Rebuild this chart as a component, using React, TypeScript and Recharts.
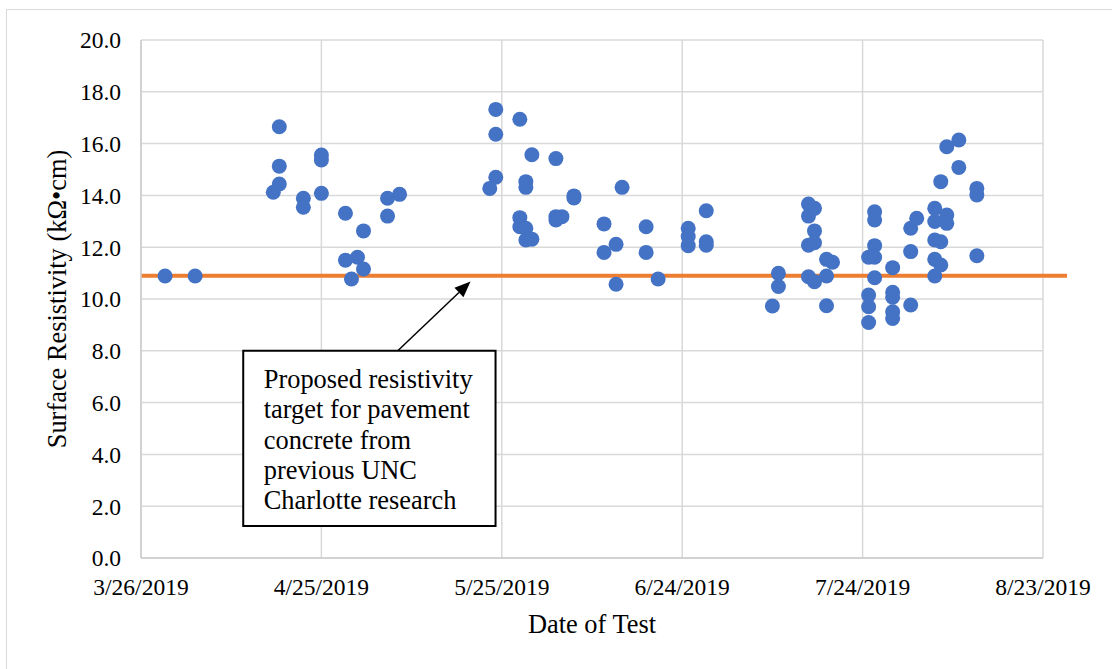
import React from 'react';
import { ScatterChart, Scatter, XAxis, YAxis, CartesianGrid, ReferenceLine, ReferenceArea } from 'recharts';

const testDates = [
  '2019-03-30', '2019-04-04', '2019-04-17', '2019-04-18', '2019-04-18', '2019-04-18', '2019-04-22', '2019-04-22',
  '2019-04-25', '2019-04-25', '2019-04-25', '2019-04-29', '2019-04-29', '2019-04-30', '2019-05-01', '2019-05-02',
  '2019-05-02', '2019-05-06', '2019-05-06', '2019-05-08', '2019-05-23', '2019-05-24', '2019-05-24', '2019-05-24',
  '2019-05-28', '2019-05-28', '2019-05-28', '2019-05-29', '2019-05-29', '2019-05-29', '2019-05-29', '2019-05-30',
  '2019-05-30', '2019-06-03', '2019-06-03', '2019-06-03', '2019-06-04', '2019-06-06', '2019-06-06', '2019-06-11',
  '2019-06-11', '2019-06-13', '2019-06-13', '2019-06-14', '2019-06-18', '2019-06-18', '2019-06-20', '2019-06-25',
  '2019-06-25', '2019-06-25', '2019-06-28', '2019-06-28', '2019-06-28', '2019-07-09', '2019-07-10', '2019-07-10',
  '2019-07-15', '2019-07-15', '2019-07-15', '2019-07-15', '2019-07-16', '2019-07-16', '2019-07-16', '2019-07-16',
  '2019-07-18', '2019-07-18', '2019-07-18', '2019-07-19', '2019-07-25', '2019-07-25', '2019-07-25', '2019-07-25',
  '2019-07-26', '2019-07-26', '2019-07-26', '2019-07-26', '2019-07-26', '2019-07-29', '2019-07-29', '2019-07-29',
  '2019-07-29', '2019-07-29', '2019-08-01', '2019-08-01', '2019-08-01', '2019-08-02', '2019-08-05', '2019-08-05',
  '2019-08-05', '2019-08-05', '2019-08-05', '2019-08-06', '2019-08-06', '2019-08-06', '2019-08-07', '2019-08-07',
  '2019-08-07', '2019-08-09', '2019-08-09', '2019-08-12', '2019-08-12', '2019-08-12',
];

const resistivity = [
  10.89, 10.89, 14.12, 16.65, 15.13, 14.44, 13.89, 13.54,
  15.56, 15.37, 14.08, 13.31, 11.5, 10.77, 11.61, 12.63,
  11.16, 13.89, 13.2, 14.04, 14.27, 17.32, 16.36, 14.7,
  16.94, 13.14, 12.79, 14.53, 14.31, 12.73, 12.28, 15.57,
  12.31, 15.42, 13.18, 13.05, 13.18, 13.98, 13.9, 12.9,
  11.8, 12.11, 10.57, 14.31, 12.79, 11.8, 10.77, 12.73,
  12.41, 12.06, 13.41, 12.21, 12.08, 9.73, 10.99, 10.48,
  13.67, 13.2, 12.08, 10.86, 13.5, 12.63, 12.17, 10.67,
  11.53, 10.89, 9.74, 11.42, 11.61, 10.15, 9.7, 9.09,
  13.37, 13.05, 12.06, 11.61, 10.82, 11.21, 10.26, 10.07,
  9.51, 9.25, 12.73, 11.83, 9.77, 13.12, 13.5, 12.99,
  12.28, 11.53, 10.89, 14.53, 12.21, 11.31, 15.88, 13.24,
  12.92, 16.14, 15.08, 14.27, 14.02, 11.67,
];

const xTickDates = ['2019-03-26', '2019-04-25', '2019-05-25', '2019-06-24', '2019-07-24', '2019-08-23'];
const yTicks = [0, 2, 4, 6, 8, 10, 12, 14, 16, 18, 20];

const targetDates = ['2019-03-26', '2019-08-27'];
const targetValues = [10.9, 10.9];

const noteLines = ['Proposed resistivity', 'target for pavement', 'concrete from', 'previous UNC', 'Charlotte research'];
// annotation box and arrow anchors, in (day offset, value) units
const noteBoxX = [17, 58.96];
const noteBoxY = [1.24, 8.0];
const arrowX = [42.7, 54.8];
const arrowY = [8.0, 10.68];

const BASE = Date.UTC(2019, 2, 26);
const toDay = (s: string) => {
  const [y, m, d] = s.split('-').map(Number);
  return (Date.UTC(y, m - 1, d) - BASE) / 86400000;
};
const fmtDay = (v: number) => {
  const dt = new Date(BASE + v * 86400000);
  return `${dt.getUTCMonth() + 1}/${dt.getUTCDate()}/${dt.getUTCFullYear()}`;
};

const data = testDates.map((d, i) => ({ x: toDay(d), y: resistivity[i] }));
const xTicks = xTickDates.map(toDay);

const FONT = '"Liberation Serif", "Times New Roman", serif';
const GRID = '#D9D9D9';
const TICK_FS = 23.5;

const Dot = (p: any) => <circle cx={p.cx} cy={p.cy} r={7.5} fill="#4472C4" />;

const XTick = (p: any) => (
  <text x={p.x} y={p.y + 0.71 * TICK_FS} textAnchor="middle" fill="#000" fontSize={TICK_FS} fontFamily={FONT}>
    {fmtDay(p.payload.value)}
  </text>
);

const YTick = (p: any) => (
  <text x={p.x} y={p.y + 0.355 * TICK_FS} textAnchor="end" fill="#000" fontSize={TICK_FS} fontFamily={FONT}>
    {Number(p.payload.value).toFixed(1)}
  </text>
);

const Arrow = (p: any) => {
  const { x1, y1, x2, y2 } = p;
  const ang = Math.atan2(y2 - y1, x2 - x1);
  const len = 16;
  const hw = 6.5;
  const bx = x2 - len * Math.cos(ang);
  const by = y2 - len * Math.sin(ang);
  const px = -Math.sin(ang) * hw;
  const py = Math.cos(ang) * hw;
  return (
    <g>
      <line x1={x1} y1={y1} x2={bx} y2={by} stroke="#000" strokeWidth={1.5} />
      <polygon points={`${x2},${y2} ${bx + px},${by + py} ${bx - px},${by - py}`} fill="#000" />
    </g>
  );
};

export default function App() {
  return (
    <div style={{ position: 'relative', width: 1112, height: 669, background: '#fff', fontFamily: FONT }}>
      <style>{'body{margin:0;overflow:hidden;background:#fff}'}</style>
      <div
        style={{
          position: 'absolute', left: 6, top: 9, width: 1106, height: 660,
          borderLeft: '1.5px solid #D9D9D9', borderTop: '1.5px solid #D9D9D9', boxSizing: 'border-box',
        }}
      />
      <div style={{ position: 'absolute', left: 0, top: 0 }}>
        <ScatterChart width={1112} height={669} margin={{ top: 40, right: 69, bottom: 31, left: 0 }} style={{ fontFamily: FONT }}>
          <CartesianGrid stroke={GRID} strokeWidth={1.5} />
          <XAxis
            type="number"
            dataKey="x"
            domain={[0, 150]}
            ticks={xTicks}
            allowDataOverflow
            height={80}
            axisLine={{ stroke: '#CCCCCC', strokeWidth: 1.5 }}
            tickLine={false}
            tickSize={0}
            tickMargin={20}
            tick={<XTick />}
            label={{
              content: (p: any) => {
                const vb = p.viewBox;
                return (
                  <text x={vb.x + vb.width / 2} y={vb.y + 75} textAnchor="middle" fill="#000" fontSize={26.4} fontFamily={FONT}>
                    Date of Test
                  </text>
                );
              },
            }}
          />
          <YAxis
            type="number"
            dataKey="y"
            domain={[0, 20]}
            ticks={yTicks}
            allowDataOverflow
            width={141}
            axisLine={{ stroke: '#CCCCCC', strokeWidth: 1.5 }}
            tickLine={false}
            tickSize={0}
            tickMargin={20}
            tick={<YTick />}
            label={{
              content: (p: any) => {
                const vb = p.viewBox;
                const cx = vb.x + 66;
                const cy = vb.y + vb.height / 2;
                return (
                  <text x={cx} y={cy} transform={`rotate(-90 ${cx} ${cy})`} textAnchor="middle" fill="#000" fontSize={26.4} fontFamily={FONT}>
                    Surface Resistivity (kΩ•cm)
                  </text>
                );
              },
            }}
          />
          <Scatter data={data} shape={Dot} isAnimationActive={false} />
          <ReferenceLine
            segment={[
              { x: toDay(targetDates[0]), y: targetValues[0] },
              { x: toDay(targetDates[1]), y: targetValues[1] },
            ]}
            stroke="#ED7D31"
            strokeWidth={4}
            ifOverflow="visible"
          />
          <ReferenceLine
            segment={[
              { x: arrowX[0], y: arrowY[0] },
              { x: arrowX[1], y: arrowY[1] },
            ]}
            shape={Arrow}
            ifOverflow="visible"
          />
          <ReferenceArea
            x1={noteBoxX[0]}
            x2={noteBoxX[1]}
            y1={noteBoxY[0]}
            y2={noteBoxY[1]}
            fill="#fff"
            fillOpacity={1}
            stroke="#000"
            strokeWidth={2}
            ifOverflow="visible"
            label={{
              content: (p: any) => {
                const vb = p.viewBox;
                return (
                  <text fill="#000" fontSize={26.4} fontFamily={FONT}>
                    {noteLines.map((l, i) => (
                      <tspan key={i} x={vb.x + 20.5} y={vb.y + 37.3 + i * 30.3}>
                        {l}
                      </tspan>
                    ))}
                  </text>
                );
              },
            }}
          />
        </ScatterChart>
      </div>
    </div>
  );
}
